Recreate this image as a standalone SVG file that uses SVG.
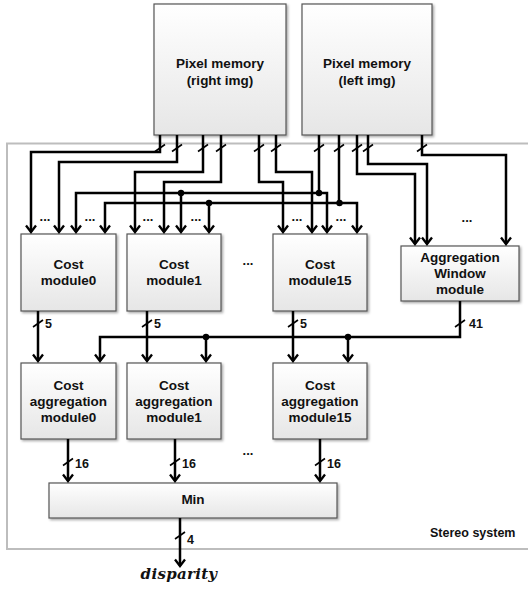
<svg xmlns="http://www.w3.org/2000/svg" width="528" height="589" viewBox="0 0 528 589">
  <style>
    .box { fill: url(#boxFill); stroke: #555; stroke-width: 1.2; filter: url(#shadow); }
    .name { font-family: "Liberation Sans", Arial, sans-serif; font-weight: bold; font-size: 13.5px; fill: #111; text-anchor: middle; }
    .width { font-family: "Liberation Sans", Arial, sans-serif; font-weight: bold; font-size: 12.5px; fill: #111; }
    .dots { font-family: "Liberation Sans", Arial, sans-serif; font-weight: bold; font-size: 13px; fill: #111; text-anchor: middle; }
    .wire { fill: none; stroke: #000; stroke-width: 2.5; stroke-linejoin: miter; }
    .arr { marker-end: url(#arrow); }
    .arr2 { marker-start: url(#arrow); marker-end: url(#arrow); }
    .tick { stroke: #000; stroke-width: 1.6; }
    .junction { fill: #000; }
  </style>
  <defs>
    <linearGradient id="boxFill" x1="0" y1="0" x2="0" y2="1">
      <stop offset="0" stop-color="#ffffff"/>
      <stop offset="1" stop-color="#e6e6e6"/>
    </linearGradient>
    <filter id="shadow" x="-10%" y="-10%" width="125%" height="125%">
      <feDropShadow dx="1.5" dy="1.5" stdDeviation="1" flood-color="#000" flood-opacity="0.35"/>
    </filter>
    <marker id="arrow" markerUnits="userSpaceOnUse" viewBox="-9 -7 11 14" markerWidth="11" markerHeight="14" refX="0" refY="0" orient="auto-start-reverse">
      <path d="M-6.5,-5 L0,0 L-6.5,5" fill="none" stroke="#000" stroke-width="2.3"/>
    </marker>
  </defs>

  <!-- system boundary -->
  <g id="stereo-system">
    <rect x="7" y="143.5" width="530" height="405.5" fill="none" stroke="#bdbdbd" stroke-width="2"/>
    <text class="width" x="430" y="537" font-size="13">Stereo  system</text>
  </g>

  <!-- image memories -->
  <g id="mem-right">
    <rect class="box" x="154" y="4" width="132" height="131"/>
    <text class="name" x="220" y="68">Pixel memory</text>
    <text class="name" x="220" y="85">(right img)</text>
  </g>
  <g id="mem-left">
    <rect class="box" x="302" y="4" width="130" height="131"/>
    <text class="name" x="367" y="68">Pixel memory</text>
    <text class="name" x="367" y="85">(left img)</text>
  </g>

  <!-- cost modules -->
  <g id="cost0">
    <rect class="box" x="21" y="234" width="95" height="77"/>
    <text class="name" x="68.5" y="269">Cost</text>
    <text class="name" x="68.5" y="285">module0</text>
  </g>
  <g id="cost1">
    <rect class="box" x="127" y="234" width="94" height="77"/>
    <text class="name" x="174" y="269">Cost</text>
    <text class="name" x="174" y="285">module1</text>
  </g>
  <g id="cost15">
    <rect class="box" x="273" y="234" width="94" height="77"/>
    <text class="name" x="320" y="269">Cost</text>
    <text class="name" x="320" y="285">module15</text>
  </g>
  <g id="agg-window">
    <rect class="box" x="401" y="246" width="118" height="55"/>
    <text class="name" x="460" y="262">Aggregation</text>
    <text class="name" x="460" y="278">Window</text>
    <text class="name" x="460" y="294">module</text>
  </g>

  <!-- cost aggregation modules -->
  <g id="agg0">
    <rect class="box" x="21" y="363" width="95" height="76"/>
    <text class="name" x="68.5" y="390">Cost</text>
    <text class="name" x="68.5" y="406">aggregation</text>
    <text class="name" x="68.5" y="422">module0</text>
  </g>
  <g id="agg1">
    <rect class="box" x="127" y="363" width="94" height="76"/>
    <text class="name" x="174" y="390">Cost</text>
    <text class="name" x="174" y="406">aggregation</text>
    <text class="name" x="174" y="422">module1</text>
  </g>
  <g id="agg15">
    <rect class="box" x="273" y="363" width="94" height="76"/>
    <text class="name" x="320" y="390">Cost</text>
    <text class="name" x="320" y="406">aggregation</text>
    <text class="name" x="320" y="422">module15</text>
  </g>

  <!-- minimum selector -->
  <g id="min">
    <rect class="box" x="49" y="483" width="288" height="35"/>
    <text class="name" x="193" y="504">Min</text>
  </g>

  <!-- connectors -->
  <g id="connectors">
    <!-- right image taps -->
    <path class="wire arr" d="M160,135 V152 H31 V232"/>
    <path class="wire arr" d="M177,135 V162 H59 V232"/>
    <path class="wire arr" d="M203,135 V172 H135 V232"/>
    <path class="wire arr" d="M221,135 V182 H164 V232"/>
    <path class="wire arr" d="M259,135 V182 H283 V232"/>
    <path class="wire arr" d="M276,135 V172 H312 V232"/>
    <!-- left image taps, shared buses -->
    <path class="wire" d="M319,135 V193"/>
    <path class="wire arr2" d="M76,232 V193 H327 V232"/>
    <path class="wire arr" d="M181,193 V232"/>
    <path class="wire" d="M339,135 V203"/>
    <path class="wire arr2" d="M105,232 V203 H357 V232"/>
    <path class="wire arr" d="M209,203 V232"/>
    <path class="wire arr" d="M357,135 V174 H415 V244"/>
    <path class="wire arr" d="M368,135 V164 H427 V244"/>
    <path class="wire arr" d="M422,135 V155 H506 V244"/>
    <circle class="junction" cx="181" cy="193" r="3.2"/>
    <circle class="junction" cx="209" cy="203" r="3.2"/>
    <circle class="junction" cx="319" cy="193" r="3.2"/>
    <circle class="junction" cx="339.5" cy="203" r="3.2"/>

    <!-- bus width ticks under memories -->
    <g class="tick">
      <line x1="155" y1="151.5" x2="165" y2="144.5"/>
      <line x1="172" y1="151.5" x2="182" y2="144.5"/>
      <line x1="198" y1="151.5" x2="208" y2="144.5"/>
      <line x1="216" y1="151.5" x2="226" y2="144.5"/>
      <line x1="254" y1="151.5" x2="264" y2="144.5"/>
      <line x1="271" y1="151.5" x2="281" y2="144.5"/>
      <line x1="314" y1="151.5" x2="324" y2="144.5"/>
      <line x1="334" y1="151.5" x2="344" y2="144.5"/>
      <line x1="352" y1="151.5" x2="362" y2="144.5"/>
      <line x1="363" y1="151.5" x2="373" y2="144.5"/>
      <line x1="417" y1="151.5" x2="427" y2="144.5"/>
    </g>

    <!-- cost outputs -->
    <path class="wire arr" d="M38,311 V361"/>
    <path class="wire arr" d="M147,311 V361"/>
    <path class="wire arr" d="M293,311 V361"/>
    <path class="wire arr" d="M460,301 V337 H100 V361"/>
    <path class="wire arr" d="M206,337 V361"/>
    <path class="wire arr" d="M348,337 V361"/>
    <circle class="junction" cx="206" cy="337" r="3.2"/>
    <circle class="junction" cx="348" cy="337" r="3.2"/>
    <g class="tick">
      <line x1="33" y1="327" x2="43" y2="320"/>
      <line x1="142" y1="327" x2="152" y2="320"/>
      <line x1="288" y1="327" x2="298" y2="320"/>
      <line x1="455" y1="327" x2="465" y2="320"/>
    </g>
    <text class="width" x="45" y="328">5</text>
    <text class="width" x="154" y="328">5</text>
    <text class="width" x="300" y="328">5</text>
    <text class="width" x="469" y="328">41</text>

    <!-- aggregation outputs -->
    <path class="wire arr" d="M68,439 V481"/>
    <path class="wire arr" d="M175,439 V481"/>
    <path class="wire arr" d="M320,439 V481"/>
    <g class="tick">
      <line x1="63" y1="465.5" x2="73" y2="458.5"/>
      <line x1="170" y1="465.5" x2="180" y2="458.5"/>
      <line x1="315" y1="465.5" x2="325" y2="458.5"/>
    </g>
    <text class="width" x="75" y="468">16</text>
    <text class="width" x="182" y="468">16</text>
    <text class="width" x="327" y="468">16</text>

    <!-- result -->
    <path class="wire arr" d="M180,518 V566"/>
    <line class="tick" x1="175" y1="539" x2="185" y2="532"/>
    <text class="width" x="187" y="544">4</text>
  </g>

  <!-- elision marks -->
  <g id="ellipses">
    <text class="dots" x="45" y="221">...</text>
    <text class="dots" x="90" y="221">...</text>
    <text class="dots" x="148" y="221">...</text>
    <text class="dots" x="196" y="221">...</text>
    <text class="dots" x="297" y="221">...</text>
    <text class="dots" x="341" y="221">...</text>
    <text class="dots" x="467" y="222">...</text>
    <text class="dots" x="248" y="265">...</text>
    <text class="dots" x="248" y="455">...</text>
  </g>

  <text x="179" y="579" font-family="'DejaVu Serif', 'Liberation Serif', serif" font-style="italic" font-weight="bold" font-size="15" letter-spacing="0.3" text-anchor="middle" fill="#111">disparity</text>
</svg>
